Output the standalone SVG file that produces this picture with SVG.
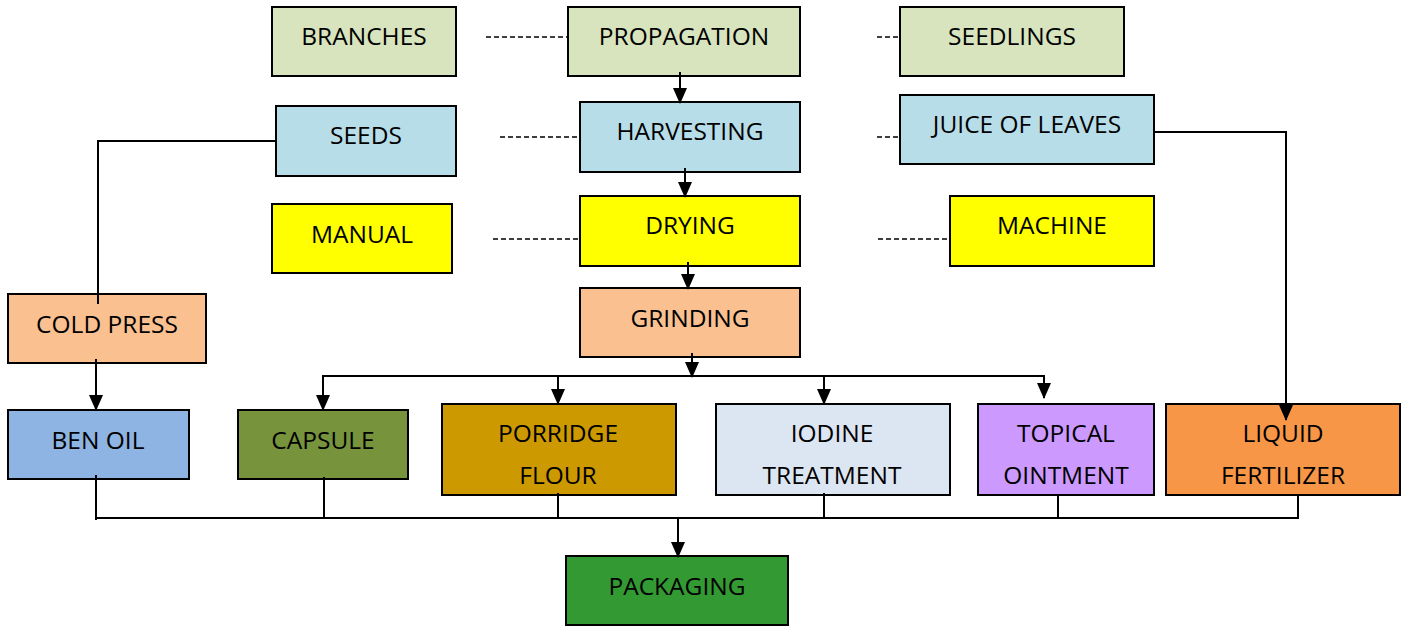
<svg xmlns="http://www.w3.org/2000/svg" width="1401" height="628" viewBox="0 0 1401 628">
<style>
rect{stroke:#000;stroke-width:2}
text{font-family:"Open Sans","Liberation Sans",sans-serif;font-size:24.5px;fill:#000;text-anchor:middle}
.c{fill:none;stroke:#000;stroke-width:2}
.d{fill:none;stroke:#000;stroke-width:1.5;stroke-dasharray:5,3}
</style>
<defs>
<marker id="v" markerUnits="userSpaceOnUse" markerWidth="14" markerHeight="16" refX="7" refY="15" viewBox="0 0 14 16">
<path d="M0,0 L14,0 L7,16 Z" fill="#000"/>
</marker>
</defs>
<g id="branches"><rect x="272" y="7" width="184" height="69" fill="#d7e4bd"/><text x="364" y="45">BRANCHES</text></g>
<g id="propagation"><rect x="568" y="7" width="232" height="69" fill="#d7e4bd"/><text x="684" y="45">PROPAGATION</text></g>
<g id="seedlings"><rect x="900" y="7" width="224" height="69" fill="#d7e4bd"/><text x="1012" y="45">SEEDLINGS</text></g>
<g id="seeds"><rect x="276" y="106" width="180" height="70" fill="#b7dde8"/><text x="366" y="144">SEEDS</text></g>
<g id="harvesting"><rect x="580" y="102" width="220" height="70" fill="#b7dde8"/><text x="690" y="140">HARVESTING</text></g>
<g id="juice"><rect x="900" y="95" width="254" height="69" fill="#b7dde8"/><text x="1027" y="133">JUICE OF LEAVES</text></g>
<g id="manual"><rect x="272" y="204" width="180" height="69" fill="#ffff00"/><text x="362" y="243">MANUAL</text></g>
<g id="drying"><rect x="580" y="196" width="220" height="70" fill="#ffff00"/><text x="690" y="234">DRYING</text></g>
<g id="machine"><rect x="950" y="196" width="204" height="70" fill="#ffff00"/><text x="1052" y="234">MACHINE</text></g>
<g id="grinding"><rect x="580" y="288" width="220" height="69" fill="#fac090"/><text x="690" y="327">GRINDING</text></g>
<g id="coldpress"><rect x="8" y="294" width="198" height="69" fill="#fac090"/><text x="107" y="333">COLD PRESS</text></g>
<g id="benoil"><rect x="8" y="410" width="181" height="69" fill="#8eb4e3"/><text x="98" y="449">BEN OIL</text></g>
<g id="capsule"><rect x="238" y="410" width="170" height="69" fill="#77933c"/><text x="323" y="449">CAPSULE</text></g>
<g id="porridge"><rect x="442" y="404" width="234" height="91" fill="#cc9900"/><text x="558" y="442">PORRIDGE</text><text x="558" y="484">FLOUR</text></g>
<g id="iodine"><rect x="716" y="404" width="234" height="91" fill="#dce6f2"/><text x="832" y="442">IODINE</text><text x="832" y="484">TREATMENT</text></g>
<g id="topical"><rect x="978" y="404" width="176" height="91" fill="#cc99ff"/><text x="1066" y="442">TOPICAL</text><text x="1066" y="484">OINTMENT</text></g>
<g id="liquid"><rect x="1166" y="404" width="234" height="91" fill="#f79646"/><text x="1283" y="442">LIQUID</text><text x="1283" y="484">FERTILIZER</text></g>
<g id="packaging"><rect x="566" y="556" width="222" height="69" fill="#339933"/><text x="677" y="595">PACKAGING</text></g>
<g id="connectors">
<line class="d" x1="486" y1="37" x2="567" y2="37"/>
<line class="d" x1="877" y1="37" x2="899" y2="37"/>
<line class="d" x1="500" y1="137" x2="579" y2="137"/>
<line class="d" x1="877" y1="137" x2="899" y2="137"/>
<line class="d" x1="493" y1="239" x2="579" y2="239"/>
<line class="d" x1="878" y1="239" x2="949" y2="239"/>
<line class="c" x1="680" y1="72" x2="680" y2="103" marker-end="url(#v)"/>
<line class="c" x1="685" y1="168" x2="685" y2="197" marker-end="url(#v)"/>
<line class="c" x1="688" y1="262" x2="688" y2="289" marker-end="url(#v)"/>
<line class="c" x1="692" y1="353" x2="692" y2="377" marker-end="url(#v)"/>
<line class="c" x1="322" y1="376" x2="1045" y2="376"/>
<line class="c" x1="323" y1="376" x2="323" y2="410" marker-end="url(#v)"/>
<line class="c" x1="558" y1="376" x2="558" y2="404" marker-end="url(#v)"/>
<line class="c" x1="824" y1="376" x2="824" y2="404" marker-end="url(#v)"/>
<line class="c" x1="1044" y1="376" x2="1044" y2="398" marker-end="url(#v)"/>
<polyline class="c" points="276,141 98,141 98,304"/>
<line class="c" x1="96" y1="359" x2="96" y2="410" marker-end="url(#v)"/>
<polyline class="c" points="1154,132 1286,132 1286,420" marker-end="url(#v)"/>
<line class="c" x1="96" y1="475" x2="96" y2="520"/>
<line class="c" x1="324" y1="477" x2="324" y2="518"/>
<line class="c" x1="558" y1="493" x2="558" y2="518"/>
<line class="c" x1="824" y1="493" x2="824" y2="518"/>
<line class="c" x1="1058" y1="495" x2="1058" y2="518"/>
<polyline class="c" points="96,518 1298,518 1298,495"/>
<line class="c" x1="678" y1="518" x2="678" y2="557" marker-end="url(#v)"/>
</g>
</svg>
